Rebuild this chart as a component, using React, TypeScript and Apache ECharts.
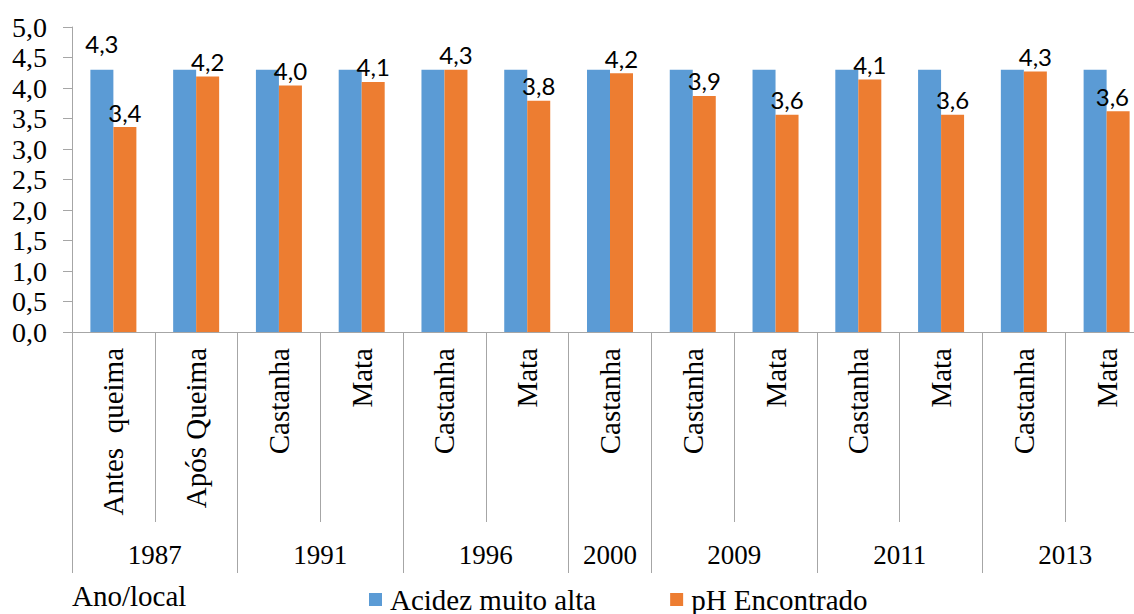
import React, { useEffect, useRef } from "react";
import * as echarts from "echarts";

const categories = [
  "Antes  queima", "Após Queima", "Castanha", "Mata", "Castanha", "Mata", "Castanha",
  "Castanha", "Mata", "Castanha", "Mata", "Castanha", "Mata",
];
const groupYears = ["1987", "1991", "1996", "2000", "2009", "2011", "2013"];
const groupSizes = [2, 2, 2, 1, 2, 2, 2];
const acidezMuitoAlta = [4.3, 4.3, 4.3, 4.3, 4.3, 4.3, 4.3, 4.3, 4.3, 4.3, 4.3, 4.3, 4.3];
const phEncontrado = [3.36, 4.19, 4.04, 4.1, 4.3, 3.79, 4.24, 3.87, 3.56, 4.14, 3.56, 4.27, 3.62];
const yTicks = { min: 0, max: 5, interval: 0.5 };

const SERIF = "'Liberation Serif', 'Times New Roman', serif";
const SANS = "Lato, 'Open Sans', sans-serif";
const AXIS = "#a6a6a6";
const W = 1134;
const H = 614;

const fmt = (v: number) => v.toFixed(1).replace(".", ",");

export default function App() {
  const ref = useRef<HTMLDivElement>(null);
  useEffect(() => {
    if (!ref.current) return;
    const chart = echarts.init(ref.current, undefined, { renderer: "svg" });

    // secondary axis: points at category boundaries (even) and centers (odd)
    const n = categories.length;
    const pts: string[] = new Array(2 * n + 1).fill("");
    const boundaryIdx = new Set<number>([0]);
    let start = 0;
    groupYears.forEach((y, g) => {
      const end = start + groupSizes[g];
      pts[start + end] = y;
      boundaryIdx.add(2 * end);
      start = end;
    });

    const option: any = {
      animation: false,
      grid: {
        left: 72,
        top: 27,
        width: 1076,
        bottom: 282,
        containLabel: false,
        outerBoundsMode: "none",
      },
      legend: {
        left: 369,
        top: 585,
        padding: 0,
        itemWidth: 13,
        itemHeight: 13,
        itemGap: 74,
        icon: "rect",
        textStyle: { fontFamily: SERIF, fontSize: 29, color: "#000", padding: [0, 0, 0, 3] },
        data: ["Acidez muito alta", "pH Encontrado"],
      },
      graphic: [
        {
          type: "text",
          left: 72,
          top: 581,
          style: { text: "Ano/local", fontFamily: SERIF, fontSize: 29, fill: "#000" },
        },
      ],
      xAxis: [
        {
          type: "category",
          data: categories,
          position: "bottom",
          axisLine: { show: true, lineStyle: { color: AXIS, width: 1 } },
          axisTick: { show: true, length: 190, interval: 0, lineStyle: { color: AXIS } },
          axisLabel: {
            interval: 0,
            rotate: 90,
            margin: 16,
            fontFamily: SERIF,
            fontSize: 29,
            color: "#000",
          },
        },
        {
          type: "category",
          data: pts,
          position: "bottom",
          boundaryGap: false,
          axisLine: { show: false },
          axisTick: {
            show: true,
            length: 241,
            interval: (i: number) => boundaryIdx.has(i),
            lineStyle: { color: AXIS },
          },
          axisLabel: {
            interval: (i: number) => pts[i] !== "",
            margin: 209,
            fontFamily: SERIF,
            fontSize: 27,
            color: "#000",
          },
          splitLine: { show: false },
        },
      ],
      yAxis: {
        type: "value",
        min: yTicks.min,
        max: yTicks.max,
        interval: yTicks.interval,
        axisLine: { show: true, lineStyle: { color: AXIS } },
        axisTick: { show: true, length: 9, inside: false, lineStyle: { color: AXIS } },
        splitLine: { show: false },
        axisLabel: {
          margin: 25,
          fontFamily: SERIF,
          fontSize: 28,
          color: "#000",
          formatter: (v: number) => fmt(v),
        },
      },
      series: [
        {
          name: "Acidez muito alta",
          type: "bar",
          xAxisIndex: 0,
          barWidth: 23,
          barGap: "0%",
          itemStyle: { color: "#5B9BD5" },
          data: acidezMuitoAlta.map((v, i) =>
            i === 0
              ? {
                  value: v,
                  label: {
                    show: true,
                    position: "top",
                    distance: 14,
                    fontFamily: SANS,
                    fontSize: 24,
                    color: "#000",
                    formatter: (p: any) => fmt(p.value),
                  },
                }
              : v
          ),
        },
        {
          name: "pH Encontrado",
          type: "bar",
          xAxisIndex: 0,
          barWidth: 23,
          barGap: "0%",
          itemStyle: { color: "#ED7D31" },
          label: {
            show: true,
            position: "top",
            distance: 3,
            offset: [4, 0],
            fontFamily: SANS,
            fontSize: 24,
            color: "#000",
            formatter: (p: any) => fmt(p.value),
          },
          labelLayout: (p: any) => {
            const r = p.labelRect;
            const over = r.x + r.width - (W - 1);
            return over > 0 ? { dx: -over } : {};
          },
          data: phEncontrado,
        },
      ],
    };
    chart.setOption(option);
    return () => chart.dispose();
  }, []);
  return (
    <div
      ref={ref}
      style={{ position: "fixed", left: 0, top: 0, width: W, height: H, background: "#fff" }}
    />
  );
}
